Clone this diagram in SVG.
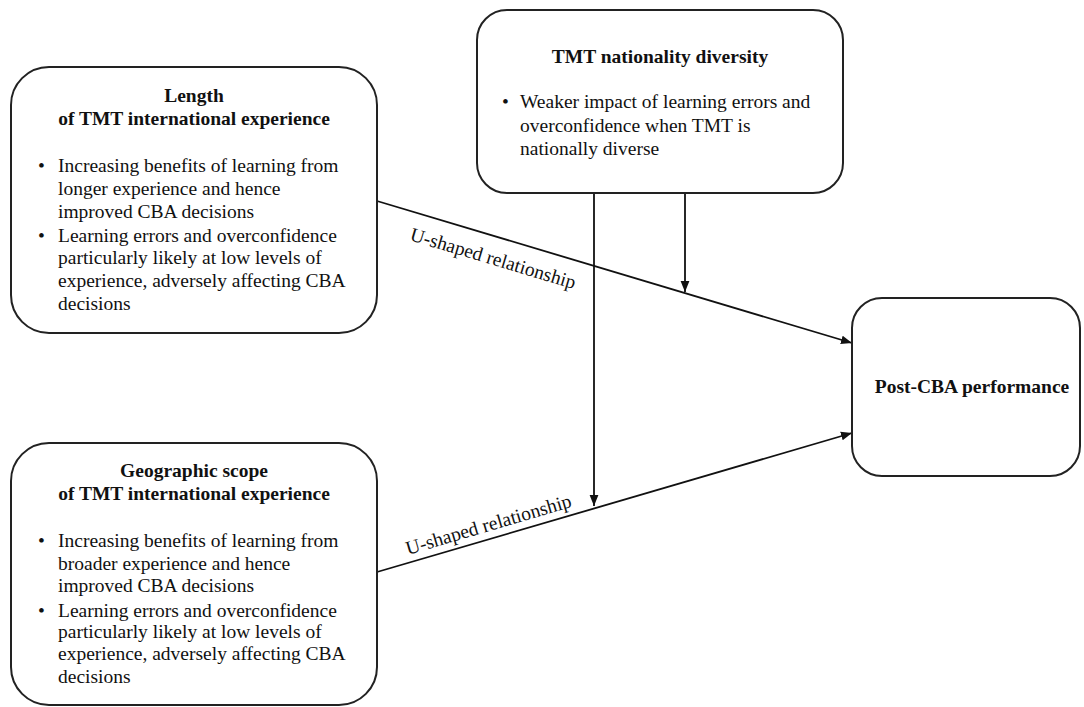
<svg xmlns="http://www.w3.org/2000/svg" width="1084" height="707" viewBox="0 0 1084 707">
<style>
.box{fill:#fff;stroke:#222;stroke-width:2}
.t{font-family:"Liberation Serif",serif;font-size:19.5px;fill:#111}
.b{font-weight:bold;text-anchor:middle}
.ln{stroke:#111;stroke-width:1.8;fill:none}
</style>
<defs>
<marker id="ah" viewBox="0 0 10 10" refX="10" refY="5" markerWidth="11" markerHeight="11" markerUnits="userSpaceOnUse" orient="auto">
<path d="M0,1 L10,5 L0,9 z" fill="#111"/>
</marker>
</defs>
<rect width="1084" height="707" fill="#fff"/>
<g id="connectors">
<line class="ln" x1="377" y1="201" x2="852" y2="343" marker-end="url(#ah)"/>
<line class="ln" x1="377" y1="572" x2="852" y2="433" marker-end="url(#ah)"/>
<line class="ln" x1="594" y1="193" x2="594" y2="506" marker-end="url(#ah)"/>
<line class="ln" x1="685" y1="193" x2="685" y2="292" marker-end="url(#ah)"/>
<text class="t" transform="translate(409,240) rotate(16.6)">U-shaped relationship</text>
<text class="t" transform="translate(408,555) rotate(-16.4)">U-shaped relationship</text>
</g>
<g id="length">
<rect class="box" x="11" y="67" width="366" height="266" rx="38"/>
<text class="t b" x="194" y="102">Length</text>
<text class="t b" x="194" y="125">of TMT international experience</text>
<text class="t" x="38" y="172">•</text>
<text class="t" x="58" y="172">Increasing benefits of learning from</text>
<text class="t" x="58" y="195">longer experience and hence</text>
<text class="t" x="58" y="218">improved CBA decisions</text>
<text class="t" x="38" y="242">•</text>
<text class="t" x="58" y="242">Learning errors and overconfidence</text>
<text class="t" x="58" y="264">particularly likely at low levels of</text>
<text class="t" x="58" y="287">experience, adversely affecting CBA</text>
<text class="t" x="58" y="310">decisions</text>
</g>
<g id="scope">
<rect class="box" x="11" y="443" width="366" height="262" rx="38"/>
<text class="t b" x="194" y="477">Geographic scope</text>
<text class="t b" x="194" y="500">of TMT international experience</text>
<text class="t" x="38" y="547">•</text>
<text class="t" x="58" y="547">Increasing benefits of learning from</text>
<text class="t" x="58" y="570">broader experience and hence</text>
<text class="t" x="58" y="592">improved CBA decisions</text>
<text class="t" x="38" y="617">•</text>
<text class="t" x="58" y="617">Learning errors and overconfidence</text>
<text class="t" x="58" y="638">particularly likely at low levels of</text>
<text class="t" x="58" y="660">experience, adversely affecting CBA</text>
<text class="t" x="58" y="683">decisions</text>
</g>
<g id="diversity">
<rect class="box" x="477" y="10" width="366" height="183" rx="30"/>
<text class="t b" x="660" y="63">TMT nationality diversity</text>
<text class="t" x="502" y="108">•</text>
<text class="t" x="520" y="108">Weaker impact of learning errors and</text>
<text class="t" x="520" y="132">overconfidence when TMT is</text>
<text class="t" x="520" y="155">nationally diverse</text>
</g>
<g id="performance">
<rect class="box" x="852" y="298" width="228" height="178" rx="30"/>
<text class="t b" x="972" y="393">Post-CBA performance</text>
</g>
</svg>
